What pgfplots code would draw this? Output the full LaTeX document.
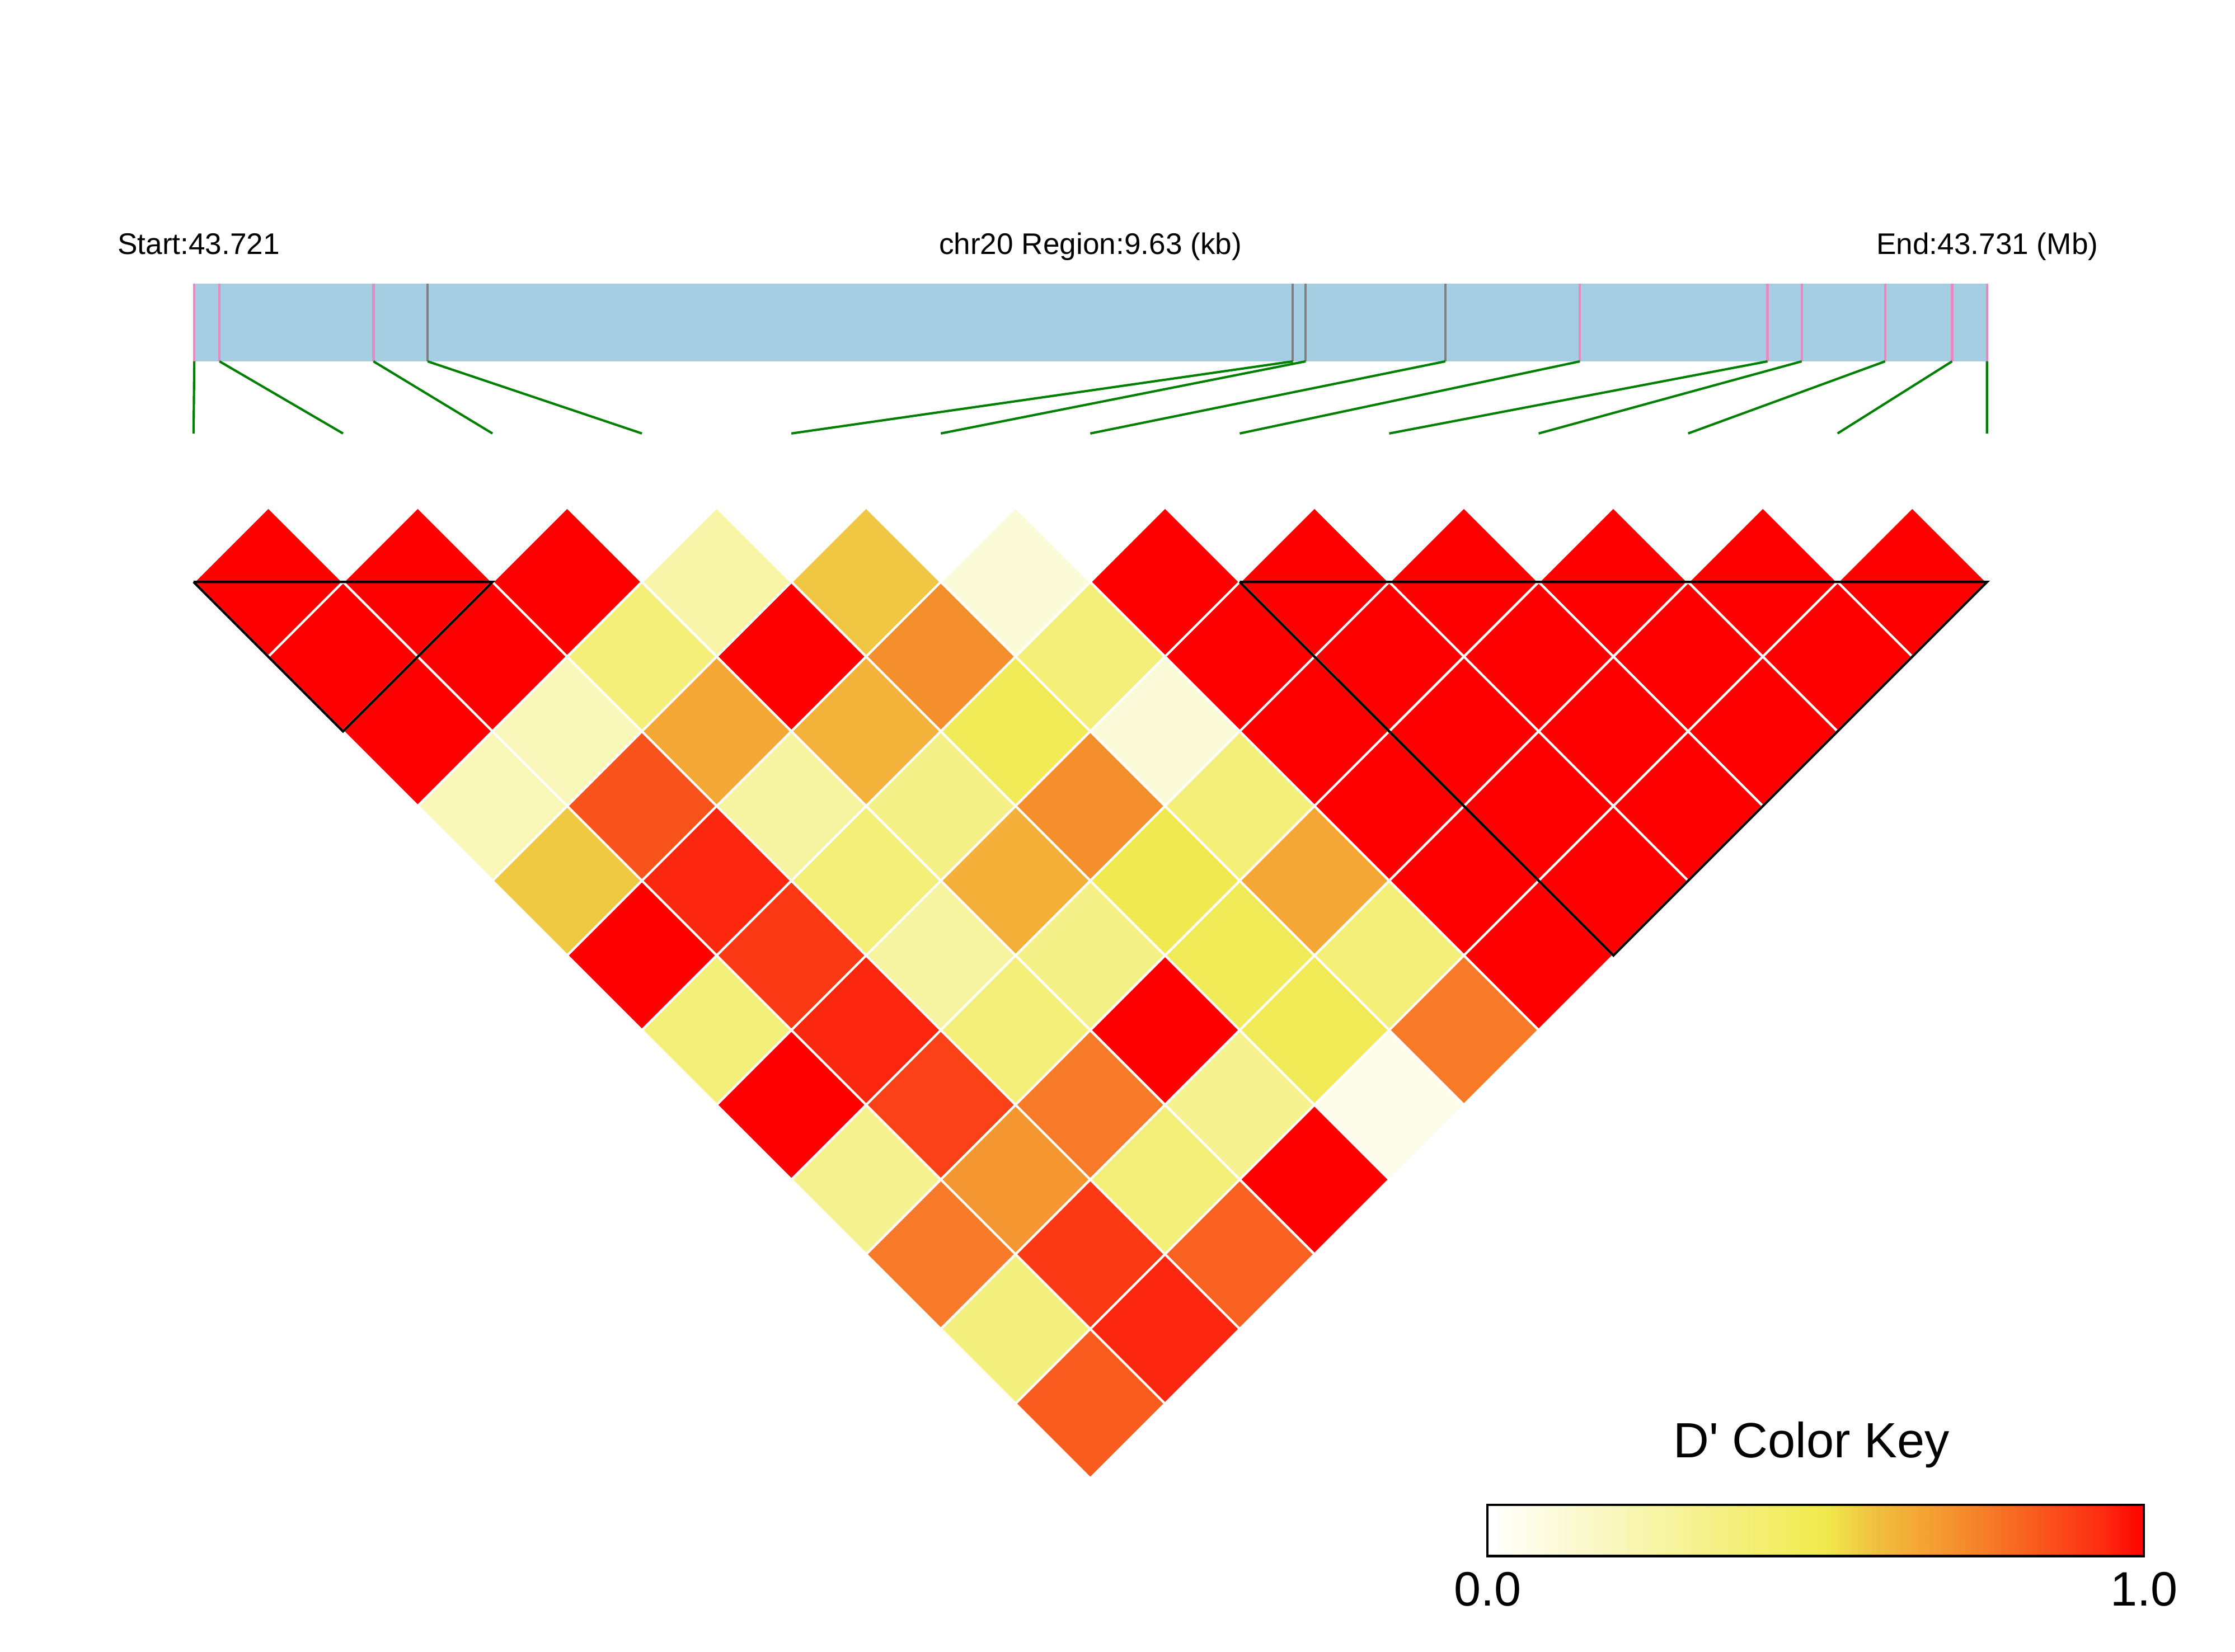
\documentclass[border=0pt]{standalone}
\usepackage{pgfplots}
\pgfplotsset{compat=1.18}
\usepackage{pgfplotstable}
\usepackage{fontspec}
\setmainfont{Liberation Sans}

\definecolor{barblue}{RGB}{166,206,227}
\definecolor{snppink}{RGB}{231,138,195}
\definecolor{snpgray}{RGB}{128,128,128}
\definecolor{linkgreen}{RGB}{0,128,0}

\pgfplotsset{colormap={ld}{rgb255(0pt)=(255,255,255) rgb255(516pt)=(240,234,76)
    rgb255(590pt)=(240,192,64) rgb255(660pt)=(245,165,53)
    rgb255(730pt)=(245,138,44) rgb255(800pt)=(248,106,34)
    rgb255(870pt)=(250,74,26) rgb255(940pt)=(253,42,16)
    rgb255(1000pt)=(255,0,0)}}

% pairwise D' values: SNP i, SNP j, D'
\pgfplotstableread{
i j v
0 1 1.000
1 2 1.000
2 3 1.000
3 4 0.250
4 5 0.580
5 6 0.110
6 7 1.000
7 8 1.000
8 9 1.000
9 10 1.000
10 11 1.000
11 12 1.000
0 2 1.000
1 3 1.000
2 4 0.390
3 5 1.000
4 6 0.720
5 7 0.390
6 8 1.000
7 9 1.000
8 10 1.000
9 11 1.000
10 12 1.000
0 3 1.000
1 4 0.200
2 5 0.655
3 6 0.626
4 7 0.480
5 8 0.110
6 9 1.000
7 10 1.000
8 11 1.000
9 12 1.000
0 4 0.200
1 5 0.850
2 6 0.270
3 7 0.340
4 8 0.720
5 9 0.390
6 10 1.000
7 11 1.000
8 12 1.000
0 5 0.575
1 6 0.945
2 7 0.390
3 8 0.630
4 9 0.505
5 10 0.655
6 11 1.000
7 12 1.000
0 6 1.000
1 7 0.905
2 8 0.270
3 9 0.340
4 10 0.480
5 11 0.390
6 12 1.000
0 7 0.390
1 8 0.945
2 9 0.390
3 10 1.000
4 11 0.480
5 12 0.765
0 8 1.000
1 9 0.890
2 10 0.765
3 11 0.320
4 12 0.065
0 9 0.320
1 10 0.695
2 11 0.390
3 12 1.000
0 10 0.765
1 11 0.905
2 12 0.820
0 11 0.370
1 12 0.945
0 12 0.830
}\ldtable

\begin{document}
\begin{tikzpicture}
\begin{axis}[
  at={(0pt,0pt)}, anchor=south west,
  x=0.36872pt, y=0.36872pt, y dir=reverse,
  xmin=0, xmax=1568, ymin=0, ymax=1159,
  hide axis, clip=false,
  set layers=standard,
  colormap name=ld,
  point meta min=0, point meta max=1,
]
\path (axis cs:0,0) rectangle (axis cs:1568,1159);

% chromosome region bar
\addplot[fill=barblue, draw=none] coordinates {(136.3,199.2) (1394,199.2) (1394,253.6) (136.3,253.6)} -- cycle;

% SNP ticks in the bar
\addplot[snppink, line width=0.62pt, unbounded coords=jump] coordinates {
(136.3,199.2) (136.3,253.6) (nan,nan)
(154,199.2) (154,253.6) (nan,nan)
(262,199.2) (262,253.6) (nan,nan)
(1108.4,199.2) (1108.4,253.6) (nan,nan)
(1240,199.2) (1240,253.6) (nan,nan)
(1264,199.2) (1264,253.6) (nan,nan)
(1322.5,199.2) (1322.5,253.6) (nan,nan)
(1369.5,199.2) (1369.5,253.6) (nan,nan)
(1394,199.2) (1394,253.6)
};
\addplot[snpgray, line width=0.6pt, unbounded coords=jump] coordinates {
(300,199.2) (300,253.6) (nan,nan)
(907,199.2) (907,253.6) (nan,nan)
(916,199.2) (916,253.6) (nan,nan)
(1014,199.2) (1014,253.6)
};

% links from physical positions to heatmap columns
\addplot[linkgreen, line width=0.6pt, unbounded coords=jump] coordinates {
(136.3,253.6) (135.8,304.2) (nan,nan)
(154,253.6) (240.65,304.2) (nan,nan)
(262,253.6) (345.5,304.2) (nan,nan)
(300,253.6) (450.35,304.2) (nan,nan)
(907,253.6) (555.2,304.2) (nan,nan)
(916,253.6) (660.05,304.2) (nan,nan)
(1014,253.6) (764.9,304.2) (nan,nan)
(1108.4,253.6) (869.75,304.2) (nan,nan)
(1240,253.6) (974.6,304.2) (nan,nan)
(1264,253.6) (1079.45,304.2) (nan,nan)
(1322.5,253.6) (1184.3,304.2) (nan,nan)
(1369.5,253.6) (1289.15,304.2) (nan,nan)
(1394,253.6) (1394,304.2)
};

% LD heatmap
\addplot[scatter, only marks, mark=square*, mark size=13.669pt,
  mark options={rotate=45, line width=0.6pt},
  scatter/use mapped color={draw=white, fill=mapped color},
  point meta=explicit]
  table[x expr={135.8+104.85*(\thisrow{i}+\thisrow{j})/2},
        y expr={408.4+52.425*(\thisrow{j}-\thisrow{i}-1)},
        meta=v] {\ldtable};

% haplotype blocks
\addplot[black, line width=0.62pt, on layer=axis foreground] coordinates {(135.8,408.4) (345.5,408.4) (240.65,513.25) (135.8,408.4)};
\addplot[black, line width=0.62pt, on layer=axis foreground] coordinates {(869.75,408.4) (1394,408.4) (1131.9,670.5) (869.75,408.4)};

\node[anchor=base west, inner sep=0pt, font=\fontsize{7.7}{9}\selectfont] at (axis cs:82,178.6) {Start:43.721};
\node[anchor=base, inner sep=0pt, font=\fontsize{7.7}{9}\selectfont] at (axis cs:765,178.6) {chr20 Region:9.63 (kb)};
\node[anchor=base east, inner sep=0pt, font=\fontsize{7.7}{9}\selectfont] at (axis cs:1472.5,178.6) {End:43.731 (Mb)};
\node[anchor=base, inner sep=0pt, font=\fontsize{12.8}{15}\selectfont] at (axis cs:1271,1023) {D\textquotesingle{} Color Key};
\end{axis}

% colour key
\begin{axis}[
  at={(384.80pt,24.70pt)}, anchor=south west,
  scale only axis, width=169.76pt, height=13.27pt,
  xmin=0, xmax=1, ymin=0, ymax=1,
  colormap name=ld, point meta min=0, point meta max=1,
  xtick={0,1}, xticklabels={0.0,1.0}, ytick=\empty,
  major tick length=0pt,
  /pgf/number format/assume math mode=true,
  xticklabel style={font=\fontsize{12.5}{14}\selectfont, anchor=base, yshift=-12.9pt, inner sep=0pt},
  axis line style={line width=0.6pt, black},
  axis on top,
]
\addplot[surf, shader=interp, mesh/rows=2, point meta=x] coordinates {(0,0) (1,0) (0,1) (1,1)};
\end{axis}
\end{tikzpicture}
\end{document}
